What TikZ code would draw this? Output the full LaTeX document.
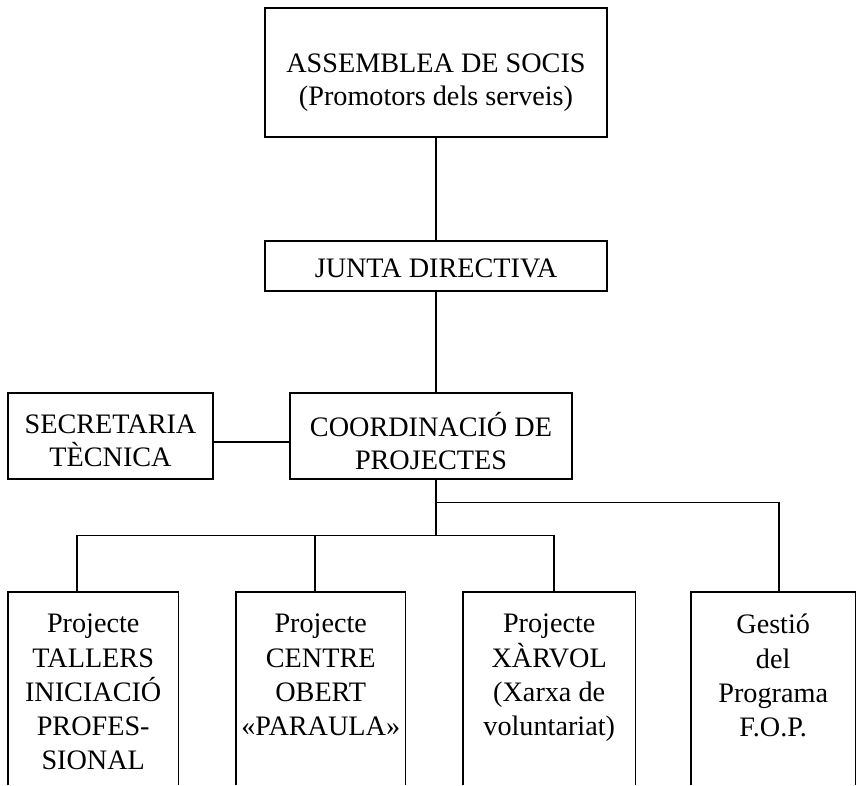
\documentclass[tikz,border=0pt]{standalone}
\usepackage{fontspec}
\setmainfont{Liberation Serif}
\usetikzlibrary{calc}
\newcommand{\orgfont}{\fontsize{28.2}{33}\selectfont}
\newcommand{\orgfontb}{\fontsize{28.2}{34.2}\selectfont}
\tikzset{
  orgbox/.style={draw, line width=1.2pt, inner sep=0pt},
  openbox/.style={inner sep=0pt},
  link/.style={line width=1.2pt},
}
% width, height, downward shift (twice), text
\newcommand{\ctext}[4]{\parbox[c][#2][c]{#1}{\centering\orgfont\vspace*{#3}#4\par}}
\newcommand{\bottomtext}[2]{\parbox[c][193pt][t]{#1}{\centering\orgfontb\vspace*{22pt}#2\par}}
\begin{document}
\begin{tikzpicture}[x=1pt,y=-1pt]
\useasboundingbox (0,0) rectangle (857,785);
\node[orgbox] (ass) at (436,72.5)
  {\ctext{342pt}{129pt}{20pt}{ASSEMBLEA DE SOCIS\\(Promotors dels serveis)}};
\node[orgbox] (junta) at (436,266)
  {\ctext{342pt}{50pt}{4pt}{JUNTA DIRECTIVA}};
\node[orgbox] (sec) at (110.5,436)
  {\ctext{205pt}{86pt}{10pt}{SECRETARIA\\TÈCNICA}};
\node[orgbox] (coord) at (431,436)
  {\ctext{282pt}{86pt}{10pt}{COORDINACIÓ DE\\PROJECTES}};
\node[openbox, anchor=north west] (b1) at (8,592)
  {\bottomtext{170pt}{Projecte\\TALLERS\\INICIACIÓ\\PROFES-\\SIONAL}};
\node[openbox, anchor=north west] (b2) at (236,592)
  {\bottomtext{169pt}{Projecte\\CENTRE\\OBERT\\«PARAULA»}};
\node[openbox, anchor=north west] (b3) at (463,592)
  {\bottomtext{172pt}{Projecte\\XÀRVOL\\(Xarxa de\\voluntariat)}};
\node[openbox, anchor=north west] (b4) at (691,592)
  {\bottomtext{164pt}{Gestió\\del\\Programa\\F.O.P.}};
\foreach \b in {b1,b2,b3,b4}
  \draw[link] (\b.south west) -- (\b.north west) -- (\b.north east) -- (\b.south east);
% connectors
\draw[link] (ass) -- (junta);
\draw[link] (junta.south) -- (junta.south |- coord.north);
\draw[link] ([yshift=-6pt]sec.east) -- ([yshift=-6pt]coord.west);
\coordinate (hubA) at ($(junta.south |- coord.south)+(0,23)$);
\coordinate (hubB) at ($(junta.south |- coord.south)+(0,56)$);
\coordinate (d1) at ([xshift=69pt]b1.north west);
\coordinate (d2) at ([xshift=79pt]b2.north west);
\coordinate (d3) at ([xshift=91pt]b3.north west);
\coordinate (d4) at ([xshift=88pt]b4.north west);
\draw[link] (junta.south |- coord.south) -- (hubB);
\draw[link] (hubA) -| (d4);
\draw[link] (d1) |- (hubB) -| (d3);
\draw[link] (d2 |- hubB) -- (d2);
\end{tikzpicture}
\end{document}
